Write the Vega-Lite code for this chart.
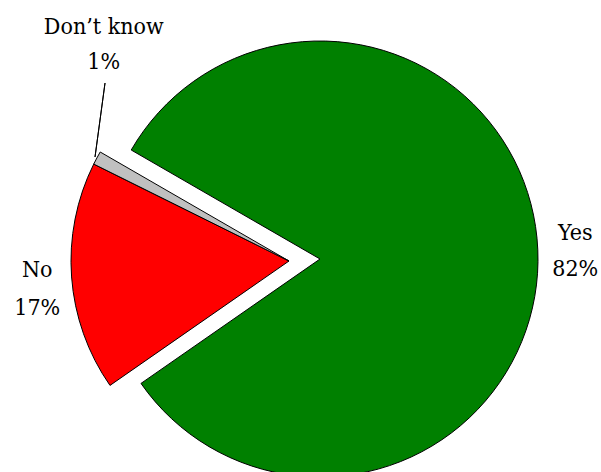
{
  "$schema": "https://vega.github.io/schema/vega-lite/v6.json",
  "width": 601,
  "height": 472,
  "autosize": {"type": "fit", "contains": "padding"},
  "padding": {"left": 8, "right": 0, "top": 40, "bottom": 0},
  "background": "white",
  "config": {"view": {"stroke": null}},
  "data": {
    "values": [
      {"answer": "Yes", "pct": 82, "order": 1, "label": "Yes\n82%"},
      {"answer": "No", "pct": 17, "order": 2, "label": "No\n17%"},
      {"answer": "Don’t know", "pct": 1, "order": 3, "label": "Don’t know\n1%"}
    ]
  },
  "layer": [
    {
      "transform": [
        {"stack": "pct", "groupby": [], "sort": [{"field": "order"}], "as": ["p0", "p1"]},
        {"filter": "datum.answer === 'Yes'"}
      ],
      "mark": {"type": "arc", "outerRadius": 218, "stroke": "black", "strokeWidth": 1, "xOffset": 15.5, "yOffset": -1},
      "encoding": {
        "theta": {"field": "p0", "type": "quantitative", "scale": {"domain": [0, 100], "range": [-1.0472, 5.236]}},
        "theta2": {"field": "p1"},
        "color": {"field": "answer", "type": "nominal", "scale": {"domain": ["Yes", "No", "Don’t know"], "range": ["#008000", "#FF0000", "#C0C0C0"]}, "legend": null}
      }
    },
    {
      "transform": [
        {"stack": "pct", "groupby": [], "sort": [{"field": "order"}], "as": ["p0", "p1"]},
        {"filter": "datum.answer !== 'Yes'"}
      ],
      "mark": {"type": "arc", "outerRadius": 218, "stroke": "black", "strokeWidth": 1, "xOffset": -15.5, "yOffset": 1},
      "encoding": {
        "theta": {"field": "p0", "type": "quantitative", "scale": {"domain": [0, 100], "range": [-1.0472, 5.236]}},
        "theta2": {"field": "p1"},
        "color": {"field": "answer", "type": "nominal", "scale": {"domain": ["Yes", "No", "Don’t know"], "range": ["#008000", "#FF0000", "#C0C0C0"]}, "legend": null}
      }
    },
    {
      "transform": [{"filter": "datum.order === 3"}],
      "mark": {"type": "arc", "theta": 0.1344, "theta2": 0.1345, "innerRadius": 74.7, "outerRadius": 149.3, "xOffset": -219.5, "yOffset": -29, "stroke": "black", "strokeWidth": 1, "fill": null},
      "encoding": {}
    },
    {
      "mark": {"type": "text", "radius": 271, "dy": -9, "font": "DejaVu Serif Condensed", "fontSize": 23, "lineBreak": "\n", "lineHeight": 36, "align": "center", "baseline": "alphabetic", "color": "black"},
      "encoding": {
        "theta": {"field": "pct", "type": "quantitative", "stack": true, "scale": {"domain": [0, 100], "range": [-1.0472, 5.236]}},
        "order": {"field": "order"},
        "text": {"condition": {"test": "datum.answer === 'Yes'", "field": "label"}, "value": ""}
      }
    },
    {
      "mark": {"type": "text", "radius": 268, "dy": -3, "font": "DejaVu Serif Condensed", "fontSize": 23, "lineBreak": "\n", "lineHeight": 38, "align": "center", "baseline": "alphabetic", "color": "black"},
      "encoding": {
        "theta": {"field": "pct", "type": "quantitative", "stack": true, "scale": {"domain": [0, 100], "range": [-1.0472, 5.236]}},
        "order": {"field": "order"},
        "text": {"condition": {"test": "datum.answer === 'No'", "field": "label"}, "value": ""}
      }
    },
    {
      "mark": {"type": "text", "radius": 255, "dx": 24, "dy": -105, "font": "DejaVu Serif Condensed", "fontSize": 23, "lineBreak": "\n", "lineHeight": 35, "align": "center", "baseline": "alphabetic", "color": "black"},
      "encoding": {
        "theta": {"field": "pct", "type": "quantitative", "stack": true, "scale": {"domain": [0, 100], "range": [-1.0472, 5.236]}},
        "order": {"field": "order"},
        "text": {"condition": {"test": "datum.answer === 'Don’t know'", "field": "label"}, "value": ""}
      }
    }
  ]
}
